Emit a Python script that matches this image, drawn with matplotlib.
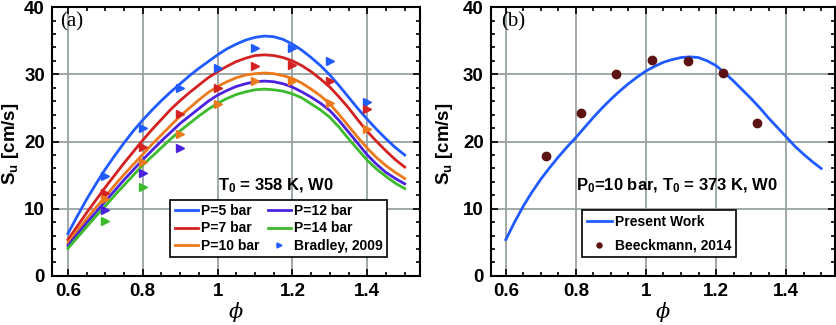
import matplotlib
matplotlib.use('Agg')
import matplotlib.pyplot as plt

plt.rcParams['font.family'] = ['Liberation Sans', 'DejaVu Sans']
plt.rcParams['font.weight'] = 'bold'
plt.rcParams['mathtext.fontset'] = 'custom'
plt.rcParams['mathtext.rm'] = 'Liberation Sans:bold'
plt.rcParams['mathtext.bf'] = 'Liberation Sans:bold'
plt.rcParams['mathtext.it'] = 'DejaVu Serif:style=italic:weight=normal'

# данные панели (a): модель при разных давлениях
phi = [0.600, 0.625, 0.650, 0.675, 0.700, 0.725, 0.750, 0.775, 0.800,
       0.825, 0.850, 0.875, 0.900, 0.925, 0.950, 0.975, 1.000, 1.025,
       1.050, 1.075, 1.100, 1.125, 1.150, 1.175, 1.200, 1.225, 1.250,
       1.275, 1.300, 1.325, 1.350, 1.375, 1.400, 1.425, 1.450, 1.475, 1.500]
su_p5 = [6.3, 8.9, 11.4, 13.7, 15.9, 17.9, 19.8, 21.6, 23.2,
         24.7, 26.1, 27.4, 28.6, 29.8, 30.9, 31.9, 32.9, 33.8,
         34.5, 35.1, 35.5, 35.7, 35.6, 35.2, 34.5, 33.6, 32.5,
         31.3, 29.9, 28.3, 26.6, 24.9, 23.3, 21.8, 20.4, 19.1, 18.0]
su_p7 = [5.4, 7.4, 9.4, 11.3, 13.2, 15.0, 16.8, 18.5, 20.2,
         21.8, 23.3, 24.8, 26.1, 27.3, 28.4, 29.5, 30.4, 31.2,
         31.9, 32.4, 32.8, 32.9, 32.8, 32.5, 32.0, 31.3, 30.4,
         29.3, 28.1, 26.6, 25.0, 23.2, 21.5, 20.0, 18.6, 17.3, 16.2]
su_p10 = [4.9, 6.7, 8.5, 10.2, 11.8, 13.5, 15.1, 16.6, 18.1,
          19.6, 21.0, 22.4, 23.8, 25.0, 26.2, 27.3, 28.2, 28.9,
          29.5, 29.9, 30.1, 30.2, 30.1, 29.8, 29.4, 28.7, 27.8,
          26.8, 25.6, 24.0, 22.3, 20.6, 19.0, 17.6, 16.4, 15.4, 14.5]
su_p12 = [4.5, 6.2, 7.9, 9.5, 11.1, 12.7, 14.3, 15.8, 17.3,
          18.7, 20.1, 21.4, 22.7, 23.8, 24.9, 26.0, 26.9, 27.6,
          28.2, 28.6, 28.9, 29.0, 28.9, 28.6, 28.1, 27.4, 26.6,
          25.7, 24.6, 23.1, 21.4, 19.7, 18.0, 16.6, 15.4, 14.5, 13.7]
su_p14 = [4.1, 5.7, 7.3, 8.9, 10.4, 12.0, 13.5, 15.0, 16.5,
          17.8, 19.1, 20.4, 21.6, 22.7, 23.8, 24.8, 25.7, 26.4,
          27.0, 27.4, 27.7, 27.8, 27.7, 27.5, 27.1, 26.5, 25.6,
          24.7, 23.6, 22.1, 20.4, 18.8, 17.2, 15.9, 14.8, 13.8, 13.0]

# эксперимент Bradley, 2009
br_phi = [0.7, 0.8, 0.9, 1.0, 1.1, 1.2, 1.3, 1.4]
br_p5 = [14.8, 22.0, 28.0, 30.9, 33.9, 33.9, 32.0, 25.9]
br_p7 = [12.4, 19.2, 24.1, 28.0, 31.2, 31.4, 29.0, 24.8]
br_p10 = [11.5, 16.9, 21.1, 25.6, 29.0, 29.0, 25.7, 21.8]
br_phi12 = [0.7, 0.8, 0.9]
br_p12 = [9.8, 15.3, 19.0]
br_phi14 = [0.7, 0.8]
br_p14 = [8.1, 13.2]

# данные панели (b)
su_present = [5.4, 8.0, 10.4, 12.5, 14.4, 16.1, 17.7, 19.2, 20.6,
              22.1, 23.6, 25.0, 26.3, 27.5, 28.6, 29.6, 30.5, 31.2,
              31.8, 32.2, 32.5, 32.6, 32.5, 32.0, 31.3, 30.2, 29.0,
              27.7, 26.4, 25.0, 23.5, 22.1, 20.7, 19.3, 18.1, 17.0, 16.0]
bk_phi = [0.715, 0.815, 0.915, 1.018, 1.12, 1.22, 1.318]
bk_su = [17.9, 24.3, 30.0, 32.2, 32.0, 30.2, 22.8]

c_blue = '#1f5bff'
c_red = '#d42222'
c_orange = '#ec7a1c'
c_purple = '#4a22e0'
c_green = '#3cbb2c'
c_dark = '#5a1212'

fig = plt.figure(figsize=(8.36, 3.25), dpi=100)
ax1 = fig.add_axes([0.062, 0.151, 0.440, 0.827])
ax2 = fig.add_axes([0.587, 0.151, 0.412, 0.827])


def style_axes(ax, label_x):
    ax.set_xlim(0.557, 1.54)
    ax.set_ylim(0, 40)
    ax.set_xticks([0.6, 0.8, 1.0, 1.2, 1.4])
    ax.set_xticklabels(['0.6', '0.8', '1', '1.2', '1.4'])
    ax.set_yticks([0, 10, 20, 30, 40])
    ax.set_xticks([0.55 + 0.05 * i for i in range(1, 20)], minor=True)
    ax.set_yticks(range(0, 41, 2), minor=True)
    ax.grid(True, color='#97a3a3', linewidth=1.3)
    ax.set_axisbelow(True)
    ax.tick_params(which='both', direction='in', top=True, right=True,
                   width=1.2, labelsize=13.5)
    ax.tick_params(which='major', length=5, pad=5)
    ax.tick_params(which='minor', length=3)
    for lab in ax.get_xticklabels() + ax.get_yticklabels():
        lab.set_fontweight('bold')
    for s in ax.spines.values():
        s.set_linewidth(1.5)
    ax.set_xlabel(r'$\phi$', fontsize=15, labelpad=0)
    ax.set_ylabel(r'$\mathbf{S_u}$ [cm/s]', fontsize=13.5, fontweight='bold')
    ax.yaxis.set_label_coords(label_x, 0.49)


# панель (a)
lw = 2.0
ax1.plot(phi, su_p5, color=c_blue, lw=lw, label='P=5 bar')
ax1.plot(phi, su_p7, color=c_red, lw=lw, label='P=7 bar')
ax1.plot(phi, su_p10, color=c_orange, lw=lw, label='P=10 bar')
ax1.plot(phi, su_p12, color=c_purple, lw=lw, label='P=12 bar')
ax1.plot(phi, su_p14, color=c_green, lw=lw, label='P=14 bar')
ms = 6
ax1.plot(br_phi, br_p5, '>', color=c_blue, ms=ms, label='Bradley, 2009')
ax1.plot(br_phi, br_p7, '>', color=c_red, ms=ms)
ax1.plot(br_phi, br_p10, '>', color=c_orange, ms=ms)
ax1.plot(br_phi12, br_p12, '>', color=c_purple, ms=ms)
ax1.plot(br_phi14, br_p14, '>', color=c_green, ms=ms)
style_axes(ax1, -0.085)
leg1 = ax1.legend(ncol=2, loc='lower left', bbox_to_anchor=(0.3226, 0.0695),
                  borderaxespad=0, fontsize=10, fancybox=False, framealpha=1,
                  edgecolor='black', handlelength=1.65, handletextpad=0.25,
                  columnspacing=0.6, labelspacing=0.26, borderpad=0.3,
                  markerscale=0.6)
leg1.get_frame().set_linewidth(1.2)
ax1.text(1.0, 12.7, r'$\mathbf{T_0}$ = 358 K, W0', fontsize=12,
         va='baseline', ha='left')
ax1.text(0.578, 39.3, '(a)', family='Liberation Serif', fontweight='normal',
         fontsize=15, va='top')

# панель (b)
ax2.plot(phi, su_present, color=c_blue, lw=lw, label='Present Work')
ax2.plot(bk_phi, bk_su, 'o', color=c_dark, ms=6, label='Beeckmann, 2014')
style_axes(ax2, -0.105)
leg2 = ax2.legend(loc='lower left', bbox_to_anchor=(0.264, 0.0695),
                  borderaxespad=0, fontsize=10, fancybox=False, framealpha=1,
                  edgecolor='black', handlelength=1.8, handletextpad=0.25,
                  labelspacing=0.65, borderpad=0.35, markerscale=0.6)
leg2.get_frame().set_linewidth(1.2)
ax2.text(0.8, 12.8, r'$\mathbf{P_0}$=10 bar, $\mathbf{T_0}$ = 373 K, W0',
         fontsize=12, va='baseline', ha='left')
ax2.text(0.588, 39.3, '(b)', family='Liberation Serif', fontweight='normal',
         fontsize=15, va='top')

fig.savefig('out.png', dpi=100)
